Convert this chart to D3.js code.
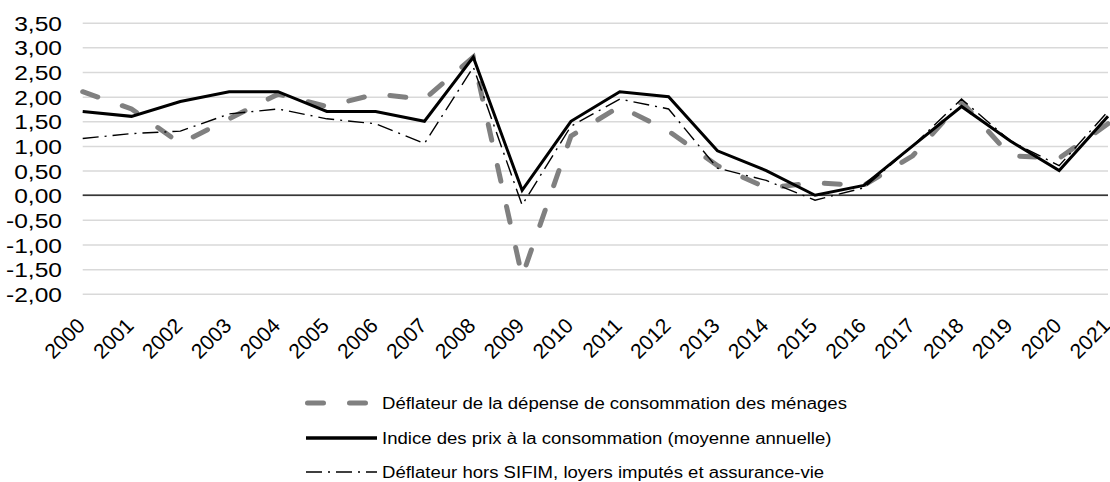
<!DOCTYPE html>
<html>
<head>
<meta charset="utf-8">
<script src="https://cdnjs.cloudflare.com/ajax/libs/d3/7.8.5/d3.min.js"></script>
<style>
  body { margin: 0; background: #fff; }
  svg { display: block; font-family: "Liberation Sans", Arial, sans-serif; }
</style>
</head>
<body>
<div id="chart"></div>
<script>
var years = ['2000', '2001', '2002', '2003', '2004', '2005', '2006', '2007', '2008', '2009', '2010',
  '2011', '2012', '2013', '2014', '2015', '2016', '2017', '2018', '2019', '2020', '2021'];

// Déflateur de la dépense de consommation des ménages
var deflateurMenages = [2.1, 1.75, 1.05, 1.55, 2.05, 1.8, 2.05, 1.95, 2.8, -1.65, 1.2,
  1.8, 1.3, 0.6, 0.15, 0.25, 0.2, 0.8, 1.9, 0.8, 0.75, 1.45];

// Indice des prix à la consommation (moyenne annuelle)
var indicePrix = [1.7, 1.6, 1.9, 2.1, 2.1, 1.7, 1.7, 1.5, 2.8, 0.1, 1.5,
  2.1, 2.0, 0.9, 0.5, 0.0, 0.2, 1.0, 1.8, 1.1, 0.5, 1.6];

// Déflateur hors SIFIM, loyers imputés et assurance-vie
var deflateurHorsSifim = [1.15, 1.25, 1.3, 1.65, 1.75, 1.55, 1.45, 1.05, 2.6, -0.2, 1.4,
  1.95, 1.75, 0.55, 0.3, -0.1, 0.15, 1.0, 1.95, 1.1, 0.6, 1.7];

var yTicks = [-2, -1.5, -1, -0.5, 0, 0.5, 1, 1.5, 2, 2.5, 3, 3.5];

var legendLabels = [
  'Déflateur de la dépense de consommation des ménages',
  'Indice des prix à la consommation (moyenne annuelle)',
  'Déflateur hors SIFIM, loyers imputés et assurance-vie'
];

(function() {
  var W = 1110, H = 482;
  var left = 82.7, right = 1108, top = 22.7, bottom = 293.8;

  var series = [
    { name: legendLabels[0], values: deflateurMenages, color: '#808080', width: 5, dash: '16,26', cap: 'round' },
    { name: legendLabels[1], values: indicePrix, color: '#000', width: 3, dash: null, cap: 'butt' },
    { name: legendLabels[2], values: deflateurHorsSifim, color: '#000', width: 1.4, dash: '16,6,2,6', cap: 'butt' }
  ];

  var locale = d3.formatLocale({ decimal: ',', thousands: ' ', grouping: [3], currency: ['', ' €'], minus: '-' });
  var fmt = locale.format('.2f');

  var x = d3.scalePoint().domain(years).range([left, right]);
  var y = d3.scaleLinear().domain([-2, 3.5]).range([bottom, top]);

  var svg = d3.select('#chart').append('svg')
    .attr('width', W).attr('height', H)
    .style('background', '#fff');

  // gridlines
  var grid = svg.append('g')
    .attr('transform', 'translate(' + left + ',0)')
    .call(d3.axisLeft(y).tickValues(yTicks).tickSize(-(right - left)).tickFormat(''));
  grid.select('.domain').remove();
  grid.selectAll('line').attr('stroke', '#d9d9d9').attr('stroke-width', 1.5);

  // y labels
  var yax = svg.append('g')
    .attr('transform', 'translate(62,0)')
    .call(d3.axisLeft(y).tickValues(yTicks).tickSize(0).tickPadding(0).tickFormat(fmt));
  yax.select('.domain').remove();
  yax.selectAll('text')
    .attr('x', 0).attr('dy', null).attr('y', 7.5)
    .attr('transform', 'scale(1.17,1)')
    .attr('fill', '#000')
    .style('font-size', '21px')
    .attr('font-family', null);

  // x labels
  var xax = svg.append('g')
    .attr('transform', 'translate(0,' + bottom + ')')
    .call(d3.axisBottom(x).tickSize(0).tickPadding(0));
  xax.select('.domain').remove();
  xax.selectAll('text')
    .attr('y', 0).attr('dy', null)
    .attr('text-anchor', 'end')
    .attr('transform', 'translate(3,' + (327 - bottom) + ') rotate(-45)')
    .attr('fill', '#000')
    .style('font-size', '21px')
    .attr('font-family', null);

  // category axis line at zero
  svg.append('line')
    .attr('x1', left).attr('x2', right)
    .attr('y1', y(0)).attr('y2', y(0))
    .attr('stroke', '#000').attr('stroke-width', 1.3);

  var line = d3.line()
    .x(function(d, i) { return x(years[i]); })
    .y(function(d) { return y(d); })
    .curve(d3.curveLinear);

  svg.selectAll('path.serie').data(series).enter()
    .append('path').attr('class', 'serie')
    .attr('d', function(s) { return line(s.values); })
    .attr('fill', 'none')
    .attr('stroke', function(s) { return s.color; })
    .attr('stroke-width', function(s) { return s.width; })
    .attr('stroke-dasharray', function(s) { return s.dash; })
    .attr('stroke-linecap', function(s) { return s.cap; })
    .attr('stroke-linejoin', 'miter');

  // legend
  var rowY = [403, 438, 472];
  var leg = svg.selectAll('g.leg').data(series).enter()
    .append('g').attr('class', 'leg')
    .attr('transform', function(s, i) { return 'translate(0,' + rowY[i] + ')'; });
  leg.append('line')
    .attr('x1', function(s) { return s.cap === 'round' ? 307.5 : 306; })
    .attr('x2', function(s) { return s.cap === 'round' ? 368 : 377; })
    .attr('stroke', function(s) { return s.color; })
    .attr('stroke-width', function(s) { return s.dash ? s.width : 3.6; })
    .attr('stroke-dasharray', function(s) { return s.dash; })
    .attr('stroke-linecap', function(s) { return s.cap; });
  leg.append('text')
    .attr('transform', 'translate(382,5.7) scale(1.16,1)')
    .style('font-size', '16px')
    .attr('fill', '#000')
    .text(function(s) { return s.name; });
})();
</script>
</body>
</html>
